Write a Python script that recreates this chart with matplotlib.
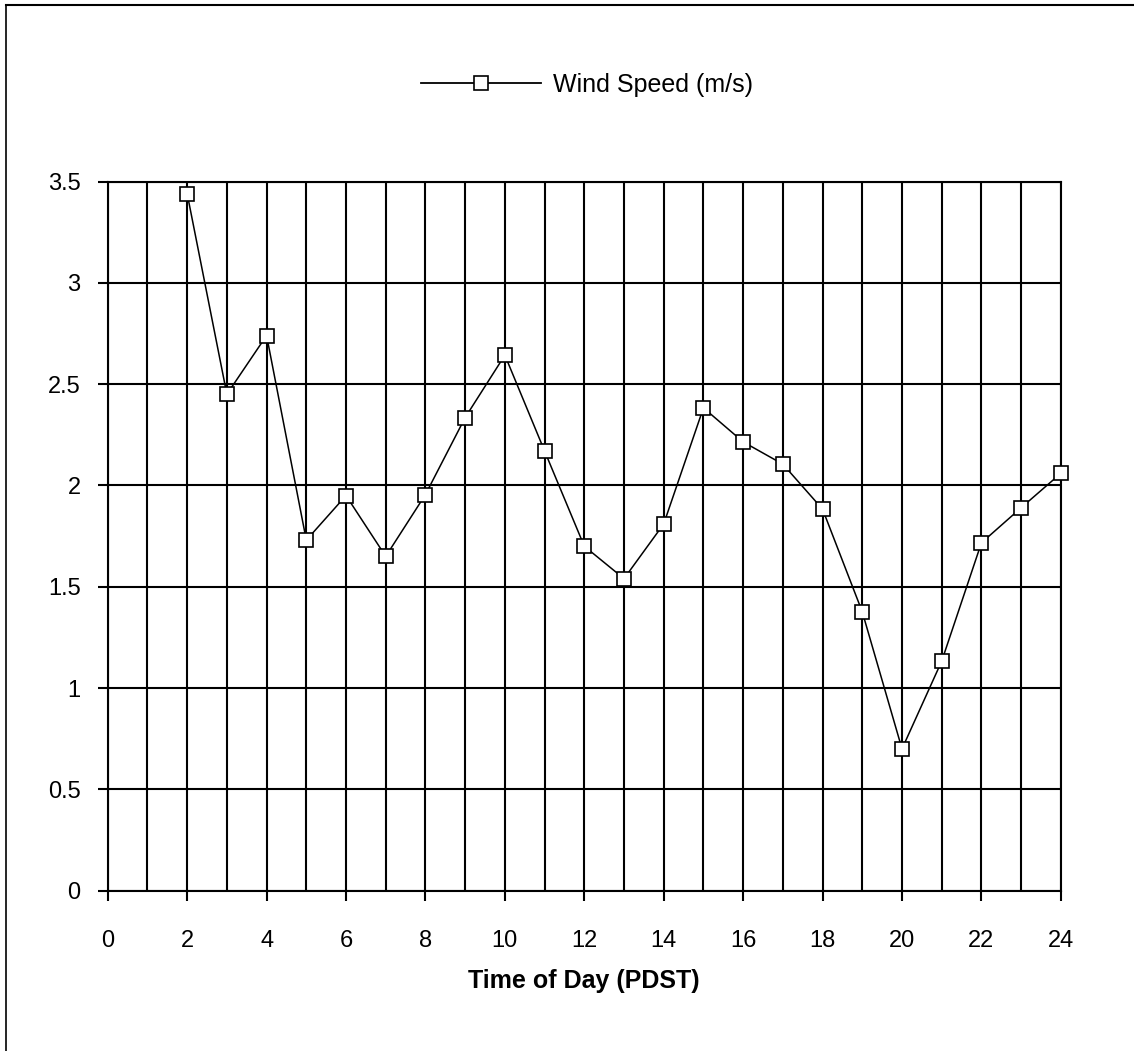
import matplotlib
matplotlib.use("Agg")
import matplotlib.pyplot as plt
from matplotlib.lines import Line2D
from matplotlib.ticker import FuncFormatter, MultipleLocator

plt.rcParams["font.family"] = ["Liberation Sans", "DejaVu Sans"]

# hourly wind speed, PDST
hours = list(range(2, 25))
wind_speed = [3.44, 2.45, 2.74, 1.73, 1.95, 1.65, 1.955, 2.335, 2.643, 2.17, 1.70,
              1.54, 1.81, 2.383, 2.215, 2.105, 1.883, 1.376, 0.70, 1.133, 1.717,
              1.89, 2.06]

x_ticks = list(range(0, 25, 2))
y_ticks = [0, 0.5, 1, 1.5, 2, 2.5, 3, 3.5]

fig = plt.figure(figsize=(11.34, 10.51), dpi=100)
ax = fig.add_axes([0.095, 0.1525, 0.8405, 0.6748])

ax.plot(hours, wind_speed, color="black", lw=1.1, marker="s", ms=10.5,
        mfc="white", mec="black", mew=1.2, zorder=3, clip_on=False)

ax.set_xlim(0, 24)
ax.set_ylim(0, 3.5)
ax.set_xticks(x_ticks)
ax.xaxis.set_minor_locator(MultipleLocator(1))
ax.set_yticks(y_ticks)
ax.yaxis.set_major_formatter(FuncFormatter(lambda v, _: f"{v:g}"))

ax.grid(True, which="both", axis="x", color="black", lw=1.5)
ax.grid(True, which="major", axis="y", color="black", lw=1.5)
ax.set_axisbelow(True)
for sp in ax.spines.values():
    sp.set_linewidth(1.5)

ax.tick_params(axis="both", which="major", length=7.5, width=1.5, color="black",
               labelsize=17)
ax.tick_params(axis="x", which="major", pad=21)
ax.tick_params(axis="y", which="major", pad=12)
ax.tick_params(axis="x", which="minor", length=0)

ax.set_xlabel("Time of Day (PDST)", fontsize=18, fontweight="bold", labelpad=12)

# legend above the plot
handle = Line2D([], [], color="black", lw=1.3, marker="s", ms=10.5,
                mfc="white", mec="black", mew=1.2)
fig.legend([handle], ["Wind Speed (m/s)"], loc="center left",
           bbox_to_anchor=(0.351, 0.919), frameon=False, fontsize=18,
           handlelength=4.8, handletextpad=0.5)

# outer page frame
fig.add_artist(Line2D([0.005, 0.005], [0.0, 0.995], transform=fig.transFigure,
                      color="black", lw=1.2))
fig.add_artist(Line2D([0.005, 1.0], [0.995, 0.995], transform=fig.transFigure,
                      color="black", lw=1.5))

fig.savefig("out.png", dpi=100)
plt.close(fig)
